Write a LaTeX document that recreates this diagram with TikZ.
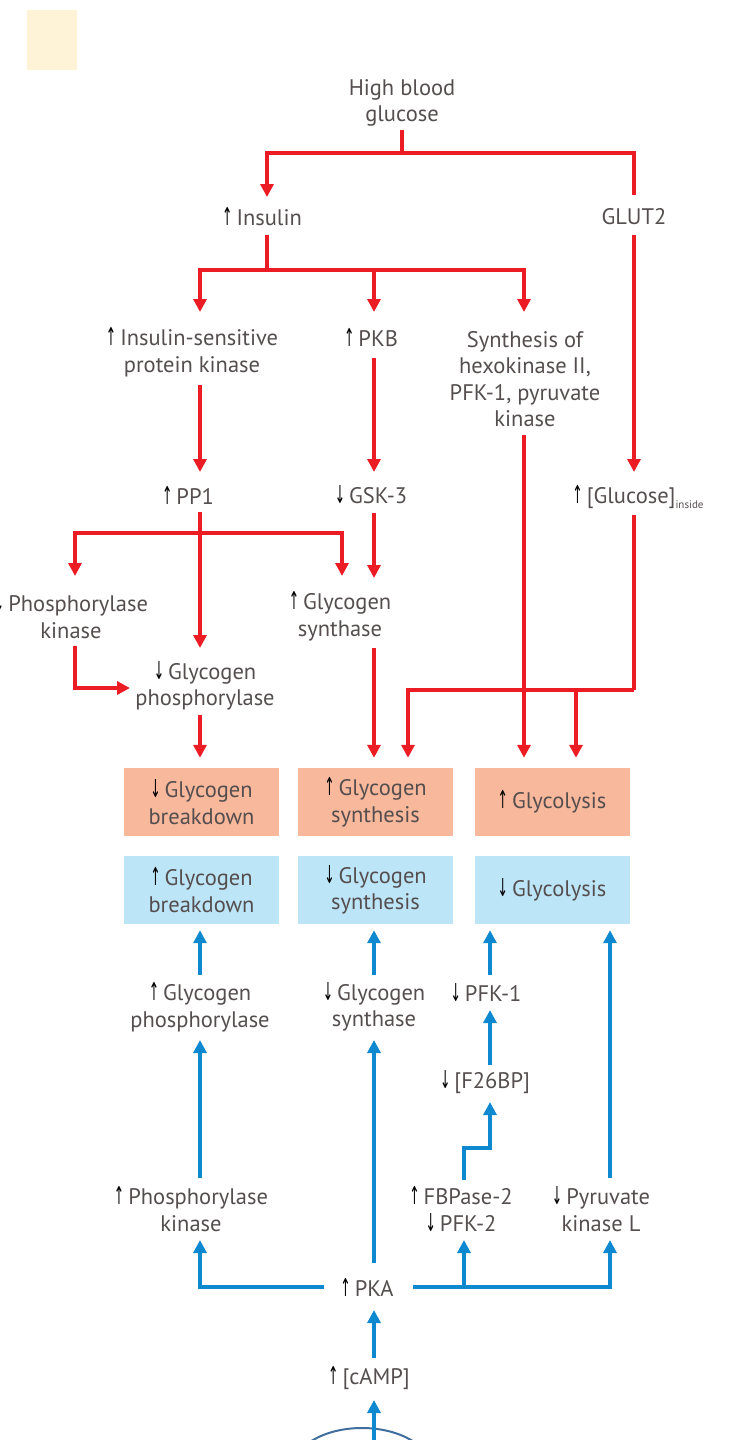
\documentclass[tikz,border=0pt]{standalone}
\usepackage{fontspec}
\usepackage{graphicx}
\setmainfont{PT Sans}
\newfontfamily\symfont{DejaVu Sans}
\usetikzlibrary{arrows.meta,calc,shapes.geometric}
\definecolor{txt}{HTML}{554E4E}
\definecolor{rd}{HTML}{EC1C24}
\definecolor{bl}{HTML}{0E88CF}
\definecolor{salmon}{HTML}{F8B89C}
\definecolor{sky}{HTML}{BDE5F8}
\definecolor{beige}{HTML}{FEF3D6}
\definecolor{ring}{HTML}{3F6E9F}
% thin black up/down markers in front of a label
\newcommand\upar{\scalebox{0.55}[1.1]{\textcolor{black}{\symfont ↑}}\kern4pt}
\newcommand\dnar{\scalebox{0.55}[1.1]{\textcolor{black}{\symfont ↓}}\kern4pt}
\newcommand\lowsub[1]{\raisebox{-5pt}{\fontsize{11}{11}\selectfont #1}}
\begin{document}
\begin{tikzpicture}[x=1pt,y=-1pt,
  lbl/.style={text=txt, font=\fontsize{22.5}{26.5}\selectfont, align=center, inner sep=0pt},
  redln/.style={draw=rd, line width=3.5pt},
  redar/.style={redln, -{Triangle[length=13pt,width=13pt]}},
  blueln/.style={draw=bl, line width=3.5pt},
  bluear/.style={blueln, -{Triangle[length=13pt,width=13pt]}},
  obox/.style={lbl, fill=salmon, minimum width=155pt, minimum height=68pt},
  bbox/.style={lbl, fill=sky, minimum width=155pt, minimum height=68pt}]
\useasboundingbox (0,0) rectangle (731,1440);
\clip (0,0) rectangle (731,1440);
\fill[beige] (27,10) rectangle (77,70);

% ---------- insulin side (red) ----------
\node[lbl] (hbg) at (402,103) {High blood\\glucose};
\node[lbl] (ins) at (262,217) {\upar Insulin};
\node[lbl] (glut) at (634,217) {GLUT2};
\node[lbl] (isk) at (192,352) {\upar Insulin-sensitive\\protein kinase};
\node[lbl] (pkb) at (371,338) {\upar PKB};
\node[lbl] (syn) at (525,379) {Synthesis of\\hexokinase II,\\PFK-1, pyruvate\\kinase};
\node[lbl] (pp1) at (188,495) {\upar PP1};
\node[lbl] (gsk) at (371,495) {\dnar GSK-3};
\node[lbl] (gin) at (638,497) {\upar [Glucose]\lowsub{inside}};
\node[lbl] (phk) at (71,616) {\dnar Phosphorylase\\kinase};
\node[lbl] (gph) at (205,686) {\dnar Glycogen\\phosphorylase};
\node[lbl] (gsy) at (340,616) {\upar Glycogen\\synthase};

% ---------- outcome boxes ----------
\node[obox] (ob1) at (201.5,802) {\dnar Glycogen\\breakdown};
\node[obox] (ob2) at (375.5,802) {\upar Glycogen\\synthesis};
\node[obox] (ob3) at (552,802) {\upar Glycolysis};
\node[bbox] (bb1) at (201.5,890) {\upar Glycogen\\breakdown};
\node[bbox] (bb2) at (375.5,890) {\dnar Glycogen\\synthesis};
\node[bbox] (bb3) at (552,890) {\dnar Glycolysis};

% ---------- glucagon side (blue) ----------
\node[lbl] (bgp) at (200,1007) {\upar Glycogen\\phosphorylase};
\node[lbl] (bgs) at (374,1007) {\dnar Glycogen\\synthase};
\node[lbl] (pfk1) at (486,993) {\dnar PFK-1};
\node[lbl] (f26) at (485,1082) {\dnar [F26BP]};
\node[lbl] (phk2) at (191,1209) {\upar Phosphorylase\\kinase};
\node[lbl] (fbp) at (461,1209) {\upar FBPase-2\\\dnar PFK-2};
\node[lbl] (pyk) at (601,1209) {\dnar Pyruvate\\kinase L};
\node[lbl] (pka) at (367,1287) {\upar PKA};
\node[lbl] (camp) at (369,1378) {\upar[cAMP]};
\node[ellipse, draw=ring, line width=2pt, minimum width=140pt, minimum height=84pt] (rec) at (362,1470) {};

% red connectors
\draw[redln] ($(hbg)+(0,27)$) -- ++(0,23) coordinate (jA);
\draw[redar] (jA) -| ($(ins)+(5,-20)$);
\draw[redln] (jA) -| ($(glut)+(0,-22)$);
\draw[redln] ($(ins)+(5,18)$) -- ++(0,35) coordinate (jB);
\draw[redar] (jB) -| ($(isk)+(8,-40)$);
\draw[redar] (jB) -| ($(pkb)+(3,-26)$);
\draw[redar] (jB) -| ($(syn)+(-1,-67)$);
\draw[redar] ($(isk)+(8,33)$) -- ($(pp1)+(12,-23)$);
\draw[redar] ($(pkb)+(3,20)$) -- ($(gsk)+(3,-23)$);
\draw[redar] ($(syn)+(-1,56)$) -- ($(ob3.north)+(-28,-10)$);
\draw[redar] ($(glut)+(0,18)$) -- ($(gin)+(-4,-25)$);
\draw[redln] ($(gin)+(-4,18)$) -- ++(0,175) coordinate (jC);
\draw[redar] (jC) -| ($(ob2.north)+(32.5,-10)$);
\draw[redar] ($(ob3.north)+(24,-78)$) -- ($(ob3.north)+(24,-10)$);
\draw[redar] ($(pp1)+(12,17)$) -- ($(gph)+(-5,-38)$);
\coordinate (jD) at ($(pp1)+(12,38)$);
\draw[redar] (jD) -| ($(phk)+(4,-40)$);
\draw[redar] (jD) -| ($(gsy)+(2,-40)$);
\draw[redar] ($(phk)+(4,30)$) |- ($(gph)+(-75,2)$);
\draw[redar] ($(gsk)+(3,18)$) -- ($(gsy)+(34,-38)$);
\draw[redar] ($(gph)+(-5,29)$) -- ($(ob1.north)+(-1.5,-10)$);
\draw[redar] ($(gsy)+(34,32)$) -- ($(ob2.north)+(-1.5,-10)$);

% blue connectors
\draw[bluear] ($(bgp)+(0,-32)$) -- ($(bb1.south)+(-1.5,6)$);
\draw[bluear] ($(bgs)+(0,-32)$) -- ($(bb2.south)+(-1.5,6)$);
\draw[bluear] ($(pfk1)+(4,-18)$) -- ($(bb3.south)+(-62,6)$);
\draw[bluear] ($(f26)+(5,-17)$) -- ($(pfk1)+(4,17)$);
\draw[bluear] ($(fbp)+(3,-29)$) -- ++(0,-32) -| ($(f26)+(5,20)$);
\draw[bluear] ($(pyk)+(9,-31)$) -- ($(bb3.south)+(58,6)$);
\draw[bluear] ($(phk2)+(9,-31)$) -- ($(bgp)+(0,33)$);
\draw[bluear] ($(pka)+(7,-24)$) -- ($(bgs)+(0,33)$);
\draw[bluear] ($(pka)+(-43,0)$) -| ($(phk2)+(9,31)$);
\draw[bluear] ($(pka)+(46,0)$) -| ($(pyk)+(9,31)$);
\draw[bluear] ($(fbp)+(3,78)$) -- ($(fbp)+(3,31)$);
\draw[bluear] ($(camp)+(5,-20)$) -- ($(pka)+(7,23)$);
\draw[bluear] ($(rec)+(12,-10)$) -- ($(camp)+(5,22)$);
\end{tikzpicture}
\end{document}
